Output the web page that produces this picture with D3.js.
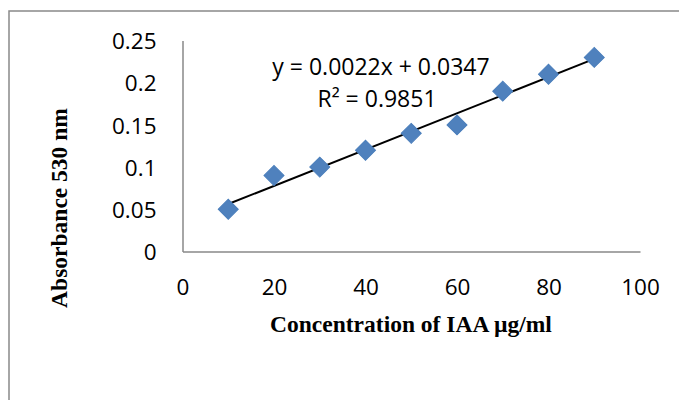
<!DOCTYPE html>
<html><head><meta charset="utf-8">
<script src="https://cdn.jsdelivr.net/npm/d3@7"></script>
<style>html,body{margin:0;padding:0;background:#fff;}svg{display:block;}</style>
</head><body>
<svg id="chart" width="679" height="400"></svg>
<script>
const concentration = [10, 20, 30, 40, 50, 60, 70, 80, 90];
const absorbance = [0.05, 0.09, 0.10, 0.12, 0.14, 0.15, 0.19, 0.21, 0.23];
const xTicks = [0, 20, 40, 60, 80, 100];
const yTicks = [0, 0.05, 0.1, 0.15, 0.2, 0.25];
const xTitle = "Concentration of IAA µg/ml";
const yTitle = "Absorbance 530 nm";
const equationText = "y = 0.0022x + 0.0347";
const r2Text = "R² = 0.9851";

const svg = d3.select("#chart");
const x = d3.scaleLinear().domain([0, 100]).range([182.5, 640]);
const y = d3.scaleLinear().domain([0, 0.25]).range([251.5, 40.5]);
const tickFont = "'Open Sans', sans-serif";
const titleFont = "'Liberation Serif', 'Times New Roman', serif";

// outer frame
svg.append("rect").attr("x", 9).attr("y", 11).attr("width", 720).attr("height", 450)
  .attr("fill", "none").attr("stroke", "#898989").attr("stroke-width", 1.5);

// axes
const xAxis = d3.axisBottom(x).tickValues(xTicks).tickSize(0).tickPadding(0).tickFormat(d3.format("d"));
const gx = svg.append("g").attr("transform", `translate(0,${y(0)})`).call(xAxis);
gx.select(".domain").attr("stroke", "#888").attr("stroke-width", 1.5);
gx.selectAll("text").attr("font-family", tickFont).attr("font-size", 22.5).attr("fill", "#000")
  .attr("dy", null).attr("y", 43);

const yAxis = d3.axisLeft(y).tickValues(yTicks).tickSize(0).tickPadding(0).tickFormat(d => d3.format("")(+d.toFixed(2)));
const gy = svg.append("g").attr("transform", `translate(${x(0)},0)`).call(yAxis);
gy.select(".domain").attr("stroke", "#888").attr("stroke-width", 1.5);
gy.selectAll("text").attr("font-family", tickFont).attr("font-size", 22.5).attr("fill", "#000")
  .attr("x", -26).attr("dy", "0.36em");

// trendline (least squares from data)
const n = concentration.length;
const mx = d3.mean(concentration), my = d3.mean(absorbance);
let sxy = 0, sxx = 0;
for (let i = 0; i < n; i++) { sxy += (concentration[i]-mx)*(absorbance[i]-my); sxx += (concentration[i]-mx)**2; }
const slope = sxy / sxx, intercept = my - slope * mx;
const xMin = d3.min(concentration), xMax = d3.max(concentration);
svg.append("line")
  .attr("x1", x(xMin)).attr("y1", y(slope*xMin+intercept))
  .attr("x2", x(xMax)).attr("y2", y(slope*xMax+intercept))
  .attr("stroke", "#000").attr("stroke-width", 2);

// markers
const diamond = d3.symbol().type(d3.symbolSquare).size(200);
svg.append("g").selectAll("path").data(concentration.map((c,i)=>[c, absorbance[i]])).join("path")
  .attr("d", diamond)
  .attr("transform", d => `translate(${x(d[0])},${y(d[1])}) rotate(45)`)
  .attr("fill", "#4F81BD").attr("stroke", "#4A7EBB").attr("stroke-width", 1);

// trendline labels
svg.append("text").attr("x", 381).attr("y", 75).attr("text-anchor", "middle")
  .attr("font-family", tickFont).attr("font-size", 23).attr("fill", "#000").text(equationText);
svg.append("text").attr("x", 377).attr("y", 106.5).attr("text-anchor", "middle")
  .attr("font-family", tickFont).attr("font-size", 23).attr("fill", "#000").text(r2Text);

// axis titles
svg.append("text").attr("x", 411).attr("y", 332).attr("text-anchor", "middle")
  .attr("font-family", titleFont).attr("font-weight", "bold").attr("font-size", 23.5).attr("fill", "#000")
  .text(xTitle);
svg.append("text").attr("transform", "translate(67,208) rotate(-90)").attr("text-anchor", "middle")
  .attr("font-family", titleFont).attr("font-weight", "bold").attr("font-size", 23.5).attr("fill", "#000")
  .text(yTitle);
</script>
</body></html>
